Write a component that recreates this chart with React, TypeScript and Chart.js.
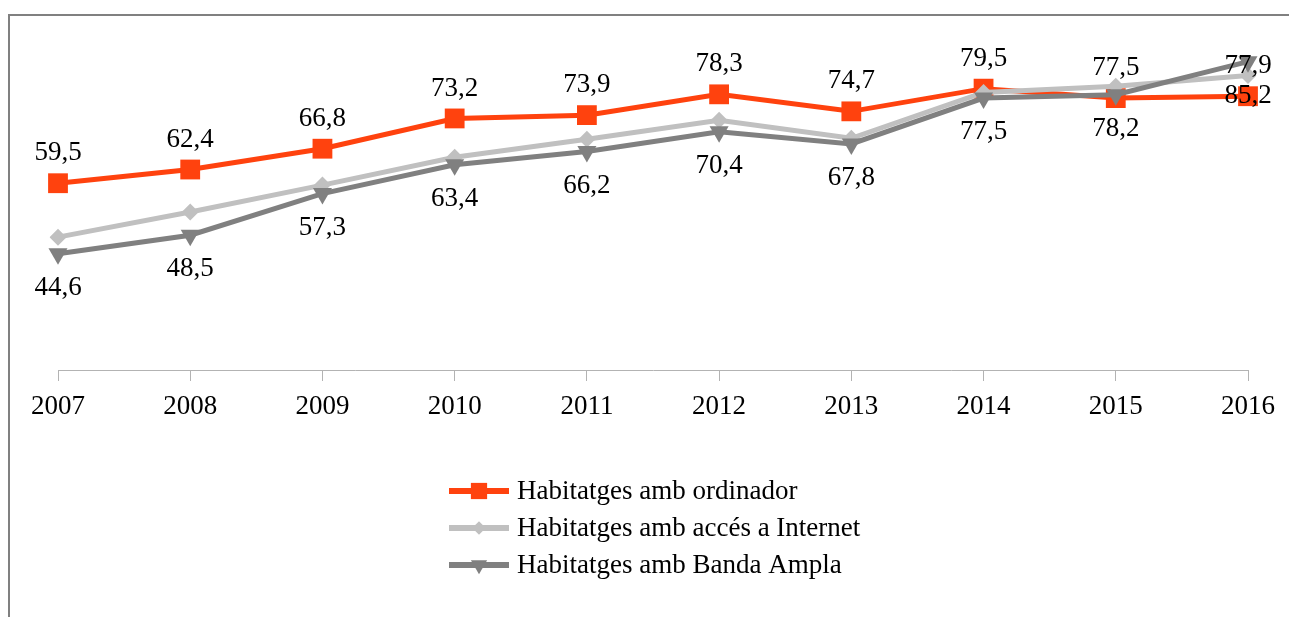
import React, { useEffect, useRef } from "react";
import { Chart, registerables } from "chart.js";
import { drawPoint } from "chart.js/helpers";

Chart.register(...registerables);

const years = ["2007", "2008", "2009", "2010", "2011", "2012", "2013", "2014", "2015", "2016"];
const ordinador = [59.5, 62.4, 66.8, 73.2, 73.9, 78.3, 74.7, 79.5, 77.5, 77.9];
const internet = [48.1, 53.4, 59.1, 65.0, 68.8, 72.8, 69.0, 78.7, 80.0, 82.3];
const bandaAmpla = [44.6, 48.5, 57.3, 63.4, 66.2, 70.4, 67.8, 77.5, 78.2, 85.2];
const seriesNames = [
  "Habitatges amb ordinador",
  "Habitatges amb accés a Internet",
  "Habitatges amb Banda Ampla",
];

const W = 1289;
const H = 617;
const FONT = "27px 'Liberation Serif'";
const ORANGE = "#ff420e";
const LIGHT = "#c0c0c0";
const DARK = "#808080";

const fmt = (v: number) => v.toFixed(1).replace(".", ",");

const framePlugin = {
  id: "frame",
  beforeDraw(chart: any) {
    const ctx = chart.ctx;
    ctx.save();
    ctx.fillStyle = "#ffffff";
    ctx.fillRect(0, 0, W, H);
    ctx.fillStyle = "#808080";
    ctx.fillRect(8, 14, W - 8, 2);
    ctx.fillRect(8, 14, 2, H - 14);
    ctx.restore();
  },
};

const labelPlugin = {
  id: "valueLabels",
  afterDatasetsDraw(chart: any) {
    const ctx = chart.ctx;
    ctx.save();
    ctx.font = FONT;
    ctx.fillStyle = "#000000";
    ctx.textAlign = "center";
    ctx.textBaseline = "middle";
    const cfg: [number, number][] = [
      [0, -30],
      [2, 34],
    ];
    cfg.forEach(([di, off]) => {
      const meta = chart.getDatasetMeta(di);
      const data = chart.data.datasets[di].data as number[];
      meta.data.forEach((pt: any, i: number) => {
        ctx.fillText(fmt(data[i]), pt.x, pt.y + off);
      });
    });
    ctx.restore();
  },
};

const legendPlugin = {
  id: "customLegend",
  afterDraw(chart: any) {
    const ctx = chart.ctx;
    ctx.save();
    const x0 = 449;
    const x1 = 509;
    const scales = [0.82, 0.8, 0.85];
    chart.data.datasets.forEach((ds: any, i: number) => {
      const y = 491 + 37 * i;
      ctx.strokeStyle = ds.borderColor;
      ctx.lineWidth = 6;
      ctx.beginPath();
      ctx.moveTo(x0, y);
      ctx.lineTo(x1, y);
      ctx.stroke();
      ctx.fillStyle = ds.pointBackgroundColor;
      ctx.strokeStyle = ds.pointBackgroundColor;
      ctx.lineWidth = 0.01;
      drawPoint(ctx, {
        pointStyle: ds.pointStyle,
        radius: ds.pointRadius * scales[i],
        rotation: ds.pointRotation || 0,
        borderWidth: 0,
      } as any, (x0 + x1) / 2, y);
      ctx.fillStyle = "#000000";
      ctx.font = FONT;
      ctx.textAlign = "left";
      ctx.textBaseline = "middle";
      ctx.fillText(ds.label, 517, y + 1);
    });
    ctx.restore();
  },
};

export default function App() {
  const ref = useRef<HTMLCanvasElement | null>(null);
  useEffect(() => {
    if (!ref.current) return;
    const chart = new Chart(ref.current, {
      type: "line",
      data: {
        labels: years,
        datasets: [
          {
            label: seriesNames[0],
            data: ordinador,
            borderColor: ORANGE,
            backgroundColor: ORANGE,
            pointBackgroundColor: ORANGE,
            pointBorderColor: ORANGE,
            borderWidth: 5,
            pointStyle: "rect",
            pointRadius: 14,
            pointBorderWidth: 0,
            pointHoverRadius: 14,
            tension: 0,
            order: 3,
          } as any,
          {
            label: seriesNames[1],
            data: internet,
            borderColor: LIGHT,
            backgroundColor: LIGHT,
            pointBackgroundColor: LIGHT,
            pointBorderColor: LIGHT,
            borderWidth: 5,
            pointStyle: "rectRot",
            pointRadius: 8.5,
            pointBorderWidth: 0,
            pointHoverRadius: 8.5,
            tension: 0,
            order: 2,
          },
          {
            label: seriesNames[2],
            data: bandaAmpla,
            borderColor: DARK,
            backgroundColor: DARK,
            pointBackgroundColor: DARK,
            pointBorderColor: DARK,
            borderWidth: 5,
            pointStyle: "triangle",
            pointRotation: 180,
            pointRadius: 11,
            pointBorderWidth: 0,
            pointHoverRadius: 11,
            tension: 0,
            order: 1,
          },
        ],
      },
      options: {
        animation: false,
        responsive: false,
        devicePixelRatio: 1,
        events: [],
        layout: { padding: { left: 58, right: W - 1248, top: 39, bottom: 0 } },
        plugins: {
          legend: { display: false },
          tooltip: { enabled: false },
          title: { display: false },
        },
        scales: {
          y: { display: false, min: 20, max: 90 },
          x: {
            type: "category",
            offset: false,
            grid: {
              display: true,
              drawOnChartArea: false,
              drawTicks: true,
              tickLength: 11,
              color: "#b3b3b3",
              lineWidth: 1,
            },
            border: { display: true, color: "#b3b3b3", width: 1 },
            ticks: {
              color: "#000000",
              font: { family: "'Liberation Serif'", size: 27 },
              padding: 10,
              maxRotation: 0,
              autoSkip: false,
            },
            afterFit: (s: any) => {
              s.height = H - 370;
            },
          },
        },
      },
      plugins: [framePlugin, labelPlugin, legendPlugin],
    });
    return () => chart.destroy();
  }, []);
  return (
    <div style={{ position: "fixed", left: 0, top: 0, width: W, height: H }}>
      <canvas ref={ref} width={W} height={H} style={{ width: W, height: H, display: "block" }} />
    </div>
  );
}
